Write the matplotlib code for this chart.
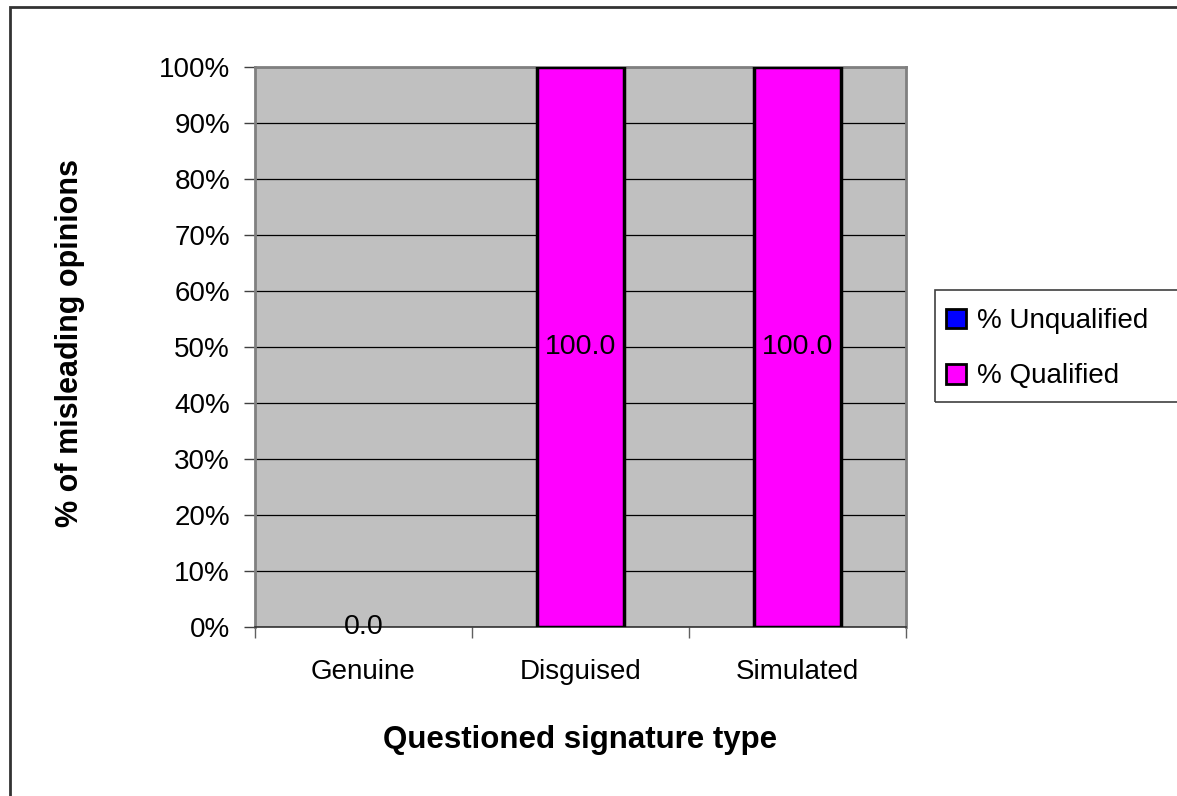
"""Stacked bar chart of misleading opinions by questioned signature type."""
import matplotlib.pyplot as plt
from matplotlib.patches import Rectangle

plt.rcParams["font.family"] = ["Liberation Sans", "DejaVu Sans"]

categories = ["Genuine", "Disguised", "Simulated"]
unqualified = [0.0, 0.0, 0.0]
qualified = [0.0, 100.0, 100.0]
yticks = list(range(0, 101, 10))

W, H = 1177, 796
fig = plt.figure(figsize=(W / 100, H / 100), dpi=100)

# outer chart frame (right and bottom sides run off the canvas)
fig.patches.append(Rectangle((9.5 / W, -0.01), 1.02, 1 - 6.5 / H + 0.01,
                             transform=fig.transFigure, fill=False,
                             edgecolor="#333333", linewidth=2))

ax = fig.add_axes([255 / W, 1 - 627 / H, (906 - 255) / W, (627 - 67) / H])
ax.set_facecolor("#C0C0C0")


def edge_widths(values):
    # zero-height bars get no outline so they don't thicken the axis line
    return [2.5 if v > 0 else 0 for v in values]


x = list(range(len(categories)))
ax.bar(x, unqualified, width=0.4, color="#0000FF", edgecolor="black",
       linewidth=edge_widths(unqualified), label="% Unqualified", zorder=3)
ax.bar(x, qualified, width=0.4, bottom=unqualified, color="#FF00FF",
       edgecolor="black", linewidth=edge_widths(qualified),
       label="% Qualified", zorder=3)

for i, (u, q) in enumerate(zip(unqualified, qualified)):
    ax.text(i, u + q / 2, f"{q:.1f}", ha="center", va="center",
            fontsize=20.5, zorder=4)

ax.set_xlim(-0.5, 2.5)
ax.set_ylim(0, 100)
ax.set_yticks(yticks)
ax.set_yticklabels([f"{t}%" for t in yticks], fontsize=20)
ax.yaxis.grid(True, color="black", linewidth=0.9)
ax.set_axisbelow(True)

ax.set_xticks([-0.5, 0.5, 1.5, 2.5])
ax.set_xticklabels([])
ax.set_xticks(x, minor=True)
ax.set_xticklabels(categories, minor=True, fontsize=20)
ax.tick_params(axis="x", which="major", length=8, color="#606060", width=1)
ax.tick_params(axis="x", which="minor", length=0, pad=23)
ax.tick_params(axis="y", length=8, color="#404040", width=1, pad=10)

for side in ["top", "right", "left"]:
    ax.spines[side].set_color("#808080")
    ax.spines[side].set_linewidth(2)
ax.spines["bottom"].set_color("#333333")
ax.spines["bottom"].set_linewidth(1.2)

ax.set_ylabel("% of misleading opinions", fontsize=22, fontweight="bold",
              va="center")
ax.yaxis.set_label_coords((70 - 255) / 651, (627 - 343) / 560)
ax.set_xlabel("Questioned signature type", fontsize=22.5, fontweight="bold",
              va="center")
ax.xaxis.set_label_coords(0.5, (627 - 740) / 560)

# legend frame runs past the right edge of the canvas
fig.patches.append(Rectangle((935 / W, 1 - 402 / H), 0.5, 112 / H,
                             transform=fig.transFigure, fill=False,
                             edgecolor="#404040", linewidth=1.2))
leg = fig.legend(loc="upper left", bbox_to_anchor=(938 / W, 1 - 300 / H),
                 fontsize=20, frameon=False, handlelength=0.7,
                 handleheight=0.7, handletextpad=0.4, borderpad=0.3,
                 labelspacing=1.05, borderaxespad=0)
for handle in leg.legend_handles:
    handle.set_linewidth(2)

fig.savefig("out.png", dpi=100, facecolor="white")
